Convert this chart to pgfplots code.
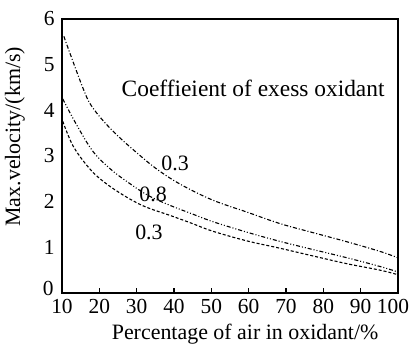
\documentclass[border=0pt]{standalone}
\usepackage{fontspec}
\setmainfont{Liberation Serif}
\usepackage{pgfplots}
\pgfplotsset{compat=1.18}
\begin{document}
\begin{tikzpicture}
\path[use as bounding box] (-62bp,-57bp) rectangle (350bp,293bp);
\begin{axis}[
  scale only axis, width=336bp, height=274bp,
  at={(0,0)}, anchor=south west,
  xmin=10, xmax=100, ymin=0, ymax=6,
  xtick={10,20,...,100}, ytick={1,2,...,6},
  extra y ticks={0},
  extra y tick style={yticklabel style={yshift=5bp, xshift=-1bp}},
  xticklabels={10,20,30,40,50,60,70,80,90,{\makebox[22bp][r]{100}}},
  tick align=inside, xtick pos=bottom, ytick pos=left,
  major tick length=5bp,
  ytick style={draw=none},
  axis line style={line width=1.6bp},
  xtick style={line width=1.6bp, black},
  ticklabel style={font=\fontsize{21.5}{24}\selectfont},
  xticklabel style={yshift=-3bp},
  yticklabel style={xshift=-4bp},
  /pgf/number format/assume math mode=true,
  xlabel={Percentage of air in oxidant/\%},
  ylabel={Max.velocity/(km/s)},
  label style={font=\fontsize{22}{24}\selectfont},
  xlabel style={at={(axis description cs:0.545,-0.152)}, anchor=center},
  ylabel style={at={(axis description cs:-0.14,0.57)}, anchor=center},
  every axis plot/.append style={black, line width=1.1bp, smooth, tension=0.6},
]
\addplot[dash pattern=on 4bp off 2bp on 1bp off 2bp] coordinates {
(10.5,5.62) (15.6,4.49) (18.3,4.05) (23.7,3.54) (30.9,3.01) (36.3,2.66)
(42.4,2.35) (50.5,2.03) (59.6,1.77) (68.4,1.52) (77.3,1.32) (86.4,1.12)
(95.2,0.91) (100,0.77)};
\addplot[dash pattern=on 4bp off 2bp on 1bp off 2bp on 1bp off 2bp] coordinates {
(10.2,4.25) (14.0,3.67) (18.3,3.10) (22.9,2.72) (27.4,2.44) (33.0,2.14) (38.9,1.92)
(44.3,1.75) (50.5,1.56) (59.6,1.33) (68.4,1.13) (77.3,0.95) (86.4,0.77)
(95.2,0.58) (100,0.46)};
\addplot[dash pattern=on 3bp off 2bp] coordinates {
(10.2,3.76) (12.9,3.23) (16.7,2.79) (20.2,2.50) (25.5,2.19) (31.7,1.91)
(38.9,1.70) (44.3,1.54) (50.5,1.35) (59.6,1.14) (68.4,0.98) (77.3,0.81)
(86.4,0.64) (95.2,0.50) (100,0.40)};
\node[font=\fontsize{23.5}{26}\selectfont] at (axis cs:61.2,4.49) {Coeffieient of exess oxidant};
\node[font=\fontsize{22}{24}\selectfont] at (axis cs:40.3,2.83) {0.3};
\node[font=\fontsize{22}{24}\selectfont] at (axis cs:34.4,2.17) {0.8};
\node[font=\fontsize{22}{24}\selectfont] at (axis cs:33.3,1.33) {0.3};
\end{axis}
\end{tikzpicture}
\end{document}
